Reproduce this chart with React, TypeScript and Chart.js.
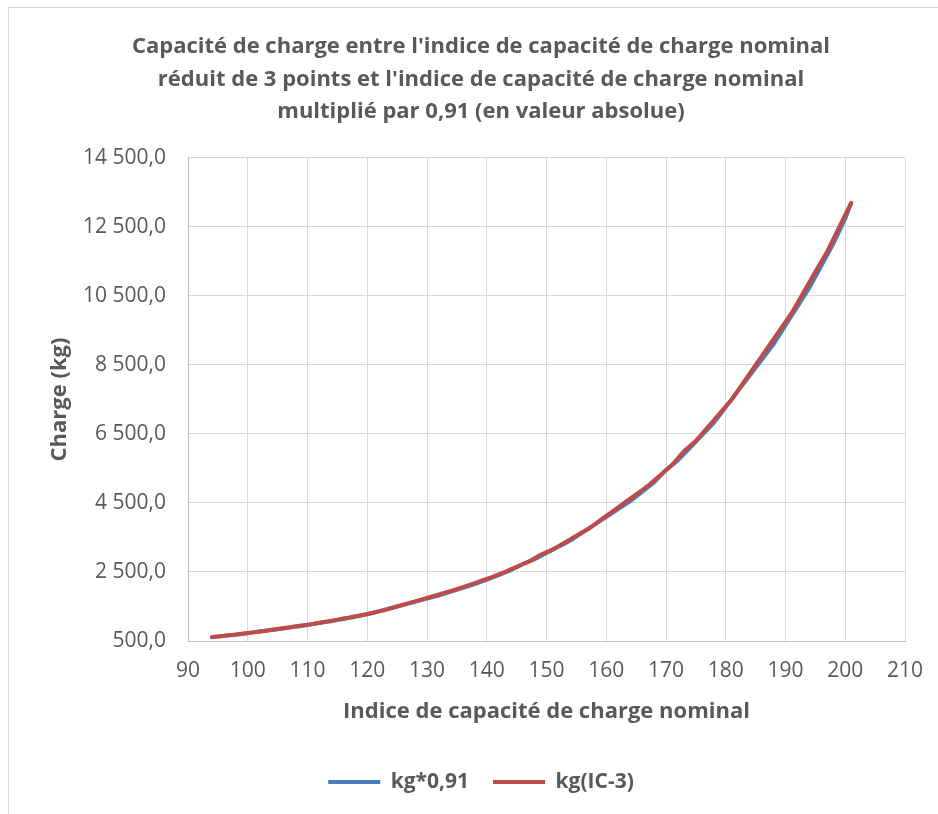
import React, { useEffect, useRef } from "react";
import { Chart, registerables } from "chart.js";

Chart.register(...registerables);

// Indice de capacité de charge nominal
const loadIndex = [
  94, 95, 96, 97, 98, 99, 100,
  101, 102, 103, 104, 105, 106, 107, 108, 109, 110,
  111, 112, 113, 114, 115, 116, 117, 118, 119, 120,
  121, 122, 123, 124, 125, 126, 127, 128, 129, 130,
  131, 132, 133, 134, 135, 136, 137, 138, 139, 140,
  141, 142, 143, 144, 145, 146, 147, 148, 149, 150,
  151, 152, 153, 154, 155, 156, 157, 158, 159, 160,
  161, 162, 163, 164, 165, 166, 167, 168, 169, 170,
  171, 172, 173, 174, 175, 176, 177, 178, 179, 180,
  181, 182, 183, 184, 185, 186, 187, 188, 189, 190,
  191, 192, 193, 194, 195, 196, 197, 198, 199, 200,
  201,
];

// kg*0,91
const kgTimes091 = [
  609.7, 627.9, 646.1, 664.3, 682.5, 705.3, 728,
  750.8, 773.5, 796.3, 819, 841.8, 864.5, 887.3, 910, 937.3, 964.6,
  991.9, 1019.2, 1046.5, 1073.8, 1105.7, 1137.5, 1169.4, 1201.2, 1237.6, 1274,
  1319.5, 1365, 1410.5, 1456, 1501.5, 1547, 1592.5, 1638, 1683.5, 1729,
  1774.5, 1820, 1874.6, 1929.2, 1983.8, 2038.4, 2093, 2147.6, 2211.3, 2275,
  2343.3, 2411.5, 2479.8, 2548, 2639, 2730, 2798.3, 2866.5, 2957.5, 3048.5,
  3139.5, 3230.5, 3321.5, 3412.5, 3526.3, 3640, 3753.8, 3867.5, 3981.3, 4095,
  4208.8, 4322.5, 4436.3, 4550, 4686.5, 4823, 4959.5, 5096, 5278, 5460,
  5596.5, 5733, 5915, 6097, 6279, 6461, 6643, 6825, 7052.5, 7280,
  7507.5, 7735, 7962.5, 8190, 8417.5, 8645, 8872.5, 9100, 9373, 9646,
  9919, 10192, 10465, 10738, 11056.5, 11375, 11693.5, 12012, 12376, 12740,
  13195,
];

// kg(IC-3)
const kgIC3 = [
  615, 630, 650, 670, 690, 710, 730,
  750, 775, 800, 825, 850, 875, 900, 925, 950, 975,
  1000, 1030, 1060, 1090, 1120, 1150, 1180, 1215, 1250, 1285,
  1320, 1360, 1400, 1450, 1500, 1550, 1600, 1650, 1700, 1750,
  1800, 1850, 1900, 1950, 2000, 2060, 2120, 2180, 2240, 2300,
  2360, 2430, 2500, 2575, 2650, 2725, 2800, 2900, 3000, 3075,
  3150, 3250, 3350, 3450, 3550, 3650, 3750, 3875, 4000, 4125,
  4250, 4375, 4500, 4625, 4750, 4875, 5000, 5150, 5300, 5450,
  5600, 5800, 6000, 6150, 6300, 6500, 6700, 6900, 7100, 7300,
  7500, 7750, 8000, 8250, 8500, 8750, 9000, 9250, 9500, 9750,
  10000, 10300, 10600, 10900, 11200, 11500, 11800, 12150, 12500, 12850,
  13200,
];

const seriesNames = ["kg*0,91", "kg(IC-3)"];
const seriesColors = ["#4A7EBB", "#BE4B48"];

const xMin = 90;
const xMax = 210;
const xStep = 10;
const yMin = 500;
const yMax = 14500;
const yStep = 2000;

const titleLines = [
  "Capacité de charge entre l'indice de capacité de charge nominal",
  "réduit de 3 points et l'indice de capacité de charge nominal",
  "multiplié par 0,91 (en valeur absolue)",
];
const xTitle = "Indice de capacité de charge nominal";
const yTitle = "Charge (kg)";

const FONT = "'Open Sans', 'DejaVu Sans', sans-serif";
const TEXT = "#595959";

function frNumber(v: number): string {
  const [ip, dp] = Math.abs(v).toFixed(1).split(".");
  const grouped = ip.replace(/\B(?=(\d{3})+(?!\d))/g, " ");
  return (v < 0 ? "-" : "") + grouped + "," + dp;
}

const W = 929;
const H = 806;

export default function App() {
  const ref = useRef<HTMLCanvasElement | null>(null);

  useEffect(() => {
    if (!ref.current) return;
    const chart = new Chart(ref.current, {
      type: "scatter",
      data: {
        datasets: [
          {
            label: seriesNames[0],
            data: loadIndex.map((x, i) => ({ x, y: kgTimes091[i] })),
            borderColor: seriesColors[0],
            backgroundColor: seriesColors[0],
            showLine: true,
            pointRadius: 0,
            borderWidth: 4,
            borderCapStyle: "round",
            borderJoinStyle: "round",
            order: 1,
          },
          {
            label: seriesNames[1],
            data: loadIndex.map((x, i) => ({ x, y: kgIC3[i] })),
            borderColor: seriesColors[1],
            backgroundColor: seriesColors[1],
            showLine: true,
            pointRadius: 0,
            borderWidth: 4,
            borderCapStyle: "round",
            borderJoinStyle: "round",
            order: 0,
          },
        ],
      },
      options: {
        animation: false,
        responsive: false,
        maintainAspectRatio: false,
        devicePixelRatio: 1,
        layout: { padding: { left: 48, right: 33, top: 0, bottom: 11.5 } },
        plugins: {
          tooltip: { enabled: false },
          title: {
            display: true,
            text: titleLines,
            color: TEXT,
            font: { family: FONT, size: 22, weight: "bold", lineHeight: 1.48 },
            padding: { top: 22.5, bottom: 29.8 },
          },
          legend: {
            display: true,
            position: "bottom",
            labels: {
              color: TEXT,
              font: { family: FONT, size: 21, weight: "bold" },
              boxWidth: 52,
              boxHeight: 4,
              padding: 24,
              sort: (a: any, b: any) => a.datasetIndex - b.datasetIndex,
              generateLabels: (c: any) => {
                const items = Chart.defaults.plugins.legend.labels.generateLabels(c);
                return items.map((it: any) => ({ ...it, lineWidth: 0 }));
              },
            },
          },
        },
        scales: {
          x: {
            type: "linear",
            min: xMin,
            max: xMax,
            ticks: {
              stepSize: xStep,
              color: TEXT,
              font: { family: FONT, size: 21 },
              padding: 17.4,
              maxRotation: 0,
            },
            grid: { color: "#D9D9D9", lineWidth: 1, drawTicks: false },
            border: { color: "#BFBFBF", width: 1 },
            title: {
              display: true,
              text: xTitle,
              color: TEXT,
              font: { family: FONT, size: 22, weight: "bold" },
              padding: { top: 0, bottom: 22.3 },
            },
            afterFit: (s: any) => {
              s.height = 106.5;
              s.paddingLeft = 0;
              s.paddingRight = 0;
            },
          },
          y: {
            type: "linear",
            min: yMin,
            max: yMax,
            ticks: {
              stepSize: yStep,
              color: TEXT,
              font: { family: FONT, size: 21 },
              padding: 22,
              callback: (v: any) => frNumber(Number(v)),
            },
            grid: { color: "#D9D9D9", lineWidth: 1, drawTicks: false },
            border: { color: "#BFBFBF", width: 1 },
            title: {
              display: true,
              text: yTitle,
              color: TEXT,
              font: { family: FONT, size: 22, weight: "bold" },
              padding: { top: -10.2, bottom: 0 },
            },
            afterFit: (s: any) => {
              s.width = 131;
            },
          },
        },
      },
    });
    return () => chart.destroy();
  }, []);

  return (
    <div
      style={{
        position: "absolute",
        left: 8,
        top: 7,
        width: W,
        height: H,
        borderTop: "1px solid #D9D9D9",
        borderLeft: "1px solid #D9D9D9",
        background: "#FFFFFF",
      }}
    >
      <canvas ref={ref} width={W} height={H} style={{ display: "block", width: W, height: H }} />
    </div>
  );
}
